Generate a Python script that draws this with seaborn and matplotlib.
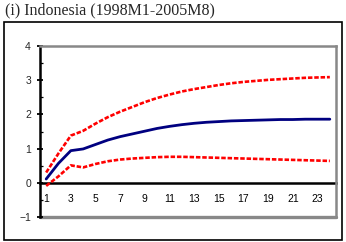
import matplotlib
matplotlib.use("Agg")
import matplotlib.pyplot as plt
import seaborn as sns
import pandas as pd
import numpy as np
from matplotlib.patches import Rectangle
from matplotlib.ticker import FixedLocator

horizon = list(range(1, 25))
response = [0.11, 0.57, 0.94, 0.99, 1.12, 1.25, 1.35, 1.43, 1.51, 1.59, 1.65, 1.70,
            1.74, 1.77, 1.79, 1.81, 1.82, 1.83, 1.84, 1.85, 1.85, 1.86, 1.86, 1.86]
upper = [0.30, 0.86, 1.38, 1.52, 1.73, 1.92, 2.08, 2.22, 2.36, 2.48, 2.58, 2.67,
         2.74, 2.80, 2.86, 2.91, 2.95, 2.98, 3.01, 3.03, 3.05, 3.07, 3.08, 3.09]
lower = [-0.09, 0.19, 0.51, 0.45, 0.55, 0.63, 0.68, 0.71, 0.73, 0.75, 0.76, 0.76,
         0.75, 0.74, 0.73, 0.72, 0.71, 0.70, 0.69, 0.68, 0.67, 0.66, 0.65, 0.64]
xtick_labels = [str(i) for i in range(1, 24, 2)]
yticks = [-1, 0, 1, 2, 3, 4]
title = "(i) Indonesia (1998M1-2005M8)"

sns.set_style("white")
plt.rcParams['font.family'] = ['Liberation Sans', 'DejaVu Sans']

fig = plt.figure(figsize=(3.46, 2.42), dpi=100)
ax = fig.add_axes([40/346, 1-217/242, (336-40)/346, (217-46)/242])

df = pd.DataFrame({"h": horizon, "resp": response, "up": upper, "lo": lower})
dash = (0, (1.7, 0.7))
sns.lineplot(data=df, x="h", y="up", ax=ax, color="#ff0000", lw=1.9,
             dashes=False, linestyle=dash)
sns.lineplot(data=df, x="h", y="lo", ax=ax, color="#ff0000", lw=1.9,
             dashes=False, linestyle=dash)
sns.lineplot(data=df, x="h", y="resp", ax=ax, color="#000080", lw=2.0)

ax.set_xlim(0.5, 24.5)
ax.set_ylim(-1, 4)
ax.set_xlabel("")
ax.set_ylabel("")

# Spines
ax.spines['left'].set_color('black')
ax.spines['left'].set_linewidth(1.8)
ax.spines['bottom'].set_position(('data', 0))
ax.spines['bottom'].set_color('black')
ax.spines['bottom'].set_linewidth(1.8)
ax.spines['bottom'].set_zorder(1)
for s in ['top', 'right']:
    ax.spines[s].set_color('#888888')
    ax.spines[s].set_linewidth(1.8)
ax.axhline(-1, color='#888888', lw=2.4, zorder=0, clip_on=False)

# Ticks
ax.set_xticks([int(t) for t in xtick_labels])
ax.set_xticklabels(xtick_labels)
ax.xaxis.set_minor_locator(FixedLocator(np.arange(1.5, 24, 1.0)))
ax.tick_params(axis='x', which='major', length=0, pad=8, labelsize=7.5, colors='black')
ax.tick_params(axis='x', which='minor', direction='in', length=2.5, width=0.9, color='black')
ax.set_yticks(yticks)
ax.yaxis.set_minor_locator(FixedLocator(np.arange(-0.5, 4, 1.0)))
ax.tick_params(axis='y', which='major', direction='inout', length=5, width=1.3,
               labelsize=7.5, pad=4, color='black', left=True)
ax.tick_params(axis='y', which='minor', direction='in', length=2.5, width=0.9,
               color='black', left=True)

# Outer frame
fig.patches.append(Rectangle((4/346, 2/242), (342-4)/346, (240-22)/242,
                             transform=fig.transFigure, fill=False,
                             edgecolor='black', lw=1.2))

fig.text(5/346, 1-10/242, title, family=['Liberation Serif', 'DejaVu Serif'],
         fontsize=11.5, va='center', ha='left')

fig.savefig("out.png", dpi=100)
